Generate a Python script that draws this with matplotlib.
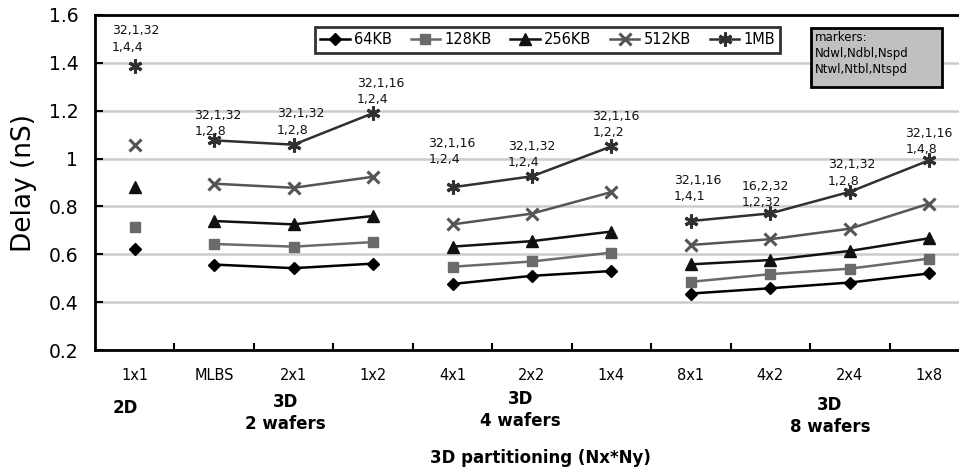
import numpy as np
import matplotlib
matplotlib.use("Agg")
import matplotlib.pyplot as plt
from matplotlib.patches import Rectangle
import matplotlib.transforms as mtransforms

plt.rcParams['font.family'] = ['DejaVu Sans']

categories = ["1x1", "MLBS", "2x1", "1x2", "4x1", "2x2", "1x4", "8x1", "4x2", "2x4", "1x8"]
groups = [[0], [1, 2, 3], [4, 5, 6], [7, 8, 9, 10]]
group_labels = ["2D", "3D\n2 wafers", "3D\n4 wafers", "3D\n8 wafers"]

series_names = ["64KB", "128KB", "256KB", "512KB", "1MB"]
delay_64kb = [0.621, 0.557, 0.542, 0.561, 0.476, 0.510, 0.530, 0.436, 0.458, 0.482, 0.520]
delay_128kb = [0.714, 0.643, 0.632, 0.651, 0.548, 0.570, 0.607, 0.485, 0.517, 0.540, 0.582]
delay_256kb = [0.880, 0.739, 0.725, 0.760, 0.632, 0.655, 0.695, 0.558, 0.576, 0.614, 0.667]
delay_512kb = [1.055, 0.895, 0.878, 0.924, 0.725, 0.770, 0.860, 0.639, 0.663, 0.707, 0.812]
delay_1mb = [1.388, 1.076, 1.058, 1.190, 0.880, 0.926, 1.051, 0.739, 0.771, 0.861, 0.993]

config_labels = ["32,1,32\n1,4,4", "32,1,32\n1,2,8", "32,1,32\n1,2,8", "32,1,16\n1,2,4",
                 "32,1,16\n1,2,4", "32,1,32\n1,2,4", "32,1,16\n1,2,2", "32,1,16\n1,4,1",
                 "16,2,32\n1,2,32", "32,1,32\n1,2,8", "32,1,16\n1,4,8"]

# layout (pixel offsets of the config labels relative to the 1MB points)
label_dx = [-23, -20, -17, -16, -24, -24, -19, -17, -29, -22, -24]
label_dy = [19, 9, 15, 14, 28, 14, 14, 25, 11, 11, 11]

series = [delay_64kb, delay_128kb, delay_256kb, delay_512kb, delay_1mb]
colors = ["#000000", "#6a6a6a", "#111111", "#555555", "#303030"]
markers = ["D", "s", "^", "x", (6, 2, 0)]
msizes = [6, 7, 8, 9, 10]
mews = [1, 1, 1, 2.2, 2.2]

fig = plt.figure(figsize=(9.59, 4.70), dpi=100)
ax = fig.add_axes([95/959, 120/470, 874/959, 335/470])

x = np.arange(len(categories))
for vals, name, c, m, ms, mew in zip(series, series_names, colors, markers, msizes, mews):
    vals = np.asarray(vals)
    first = True
    for g in groups:
        gi = np.array(g)
        ax.plot(x[gi], vals[gi], color=c, marker=m, markersize=ms, markeredgewidth=mew,
                markeredgecolor=c, markerfacecolor=c, linewidth=1.8, zorder=3,
                label=name if first else None)
        first = False

for i, txt in enumerate(config_labels):
    ax.annotate(txt, xy=(x[i], delay_1mb[i]), xytext=(label_dx[i], label_dy[i] - 7),
                textcoords='offset pixels', ha='left', va='bottom', fontsize=9,
                linespacing=1.35, color='#111111', zorder=4)

ax.set_xlim(-0.5, len(categories) - 0.5)
ax.set_ylim(0.2, 1.6)
ax.set_yticks([0.2, 0.4, 0.6, 0.8, 1.0, 1.2, 1.4, 1.6])
ax.set_yticklabels(["%g" % v for v in [0.2, 0.4, 0.6, 0.8, 1.0, 1.2, 1.4, 1.6]], fontsize=13.5)
ax.yaxis.grid(True, color='#cccccc', linewidth=1.8, zorder=0)
ax.set_axisbelow(True)
ax.tick_params(axis='y', direction='in', length=6, width=1.5, pad=12)

ax.set_xticks(np.arange(len(categories)) + 0.5)
ax.set_xticklabels([])
ax.tick_params(axis='x', which='major', direction='in', length=5, width=1.5)
ax.set_xticks(x, minor=True)
ax.set_xticklabels(categories, minor=True, fontsize=10.5)
ax.tick_params(axis='x', which='minor', length=0, pad=13)

for sp in ['left', 'bottom', 'top']:
    ax.spines[sp].set_linewidth(2)
ax.spines['right'].set_visible(False)

ax.set_ylabel("Delay (nS)", fontsize=19, labelpad=8)

# group labels
trans = mtransforms.blended_transform_factory(ax.transData, ax.transAxes)
group_x = [-0.12, 1.9, 4.85, 8.75]
group_y = [-0.173, -0.188, -0.179, -0.197]
for gx, gy, gl in zip(group_x, group_y, group_labels):
    ax.text(gx, gy, gl, transform=trans, ha='center', va='center', fontsize=12,
            fontweight='bold', linespacing=1.3)

fig.text(540/959, 1 - 458/470, "3D partitioning (Nx*Ny)", ha='center', va='center',
         fontsize=12, fontweight='bold')

leg = ax.legend(loc='upper center', bbox_to_anchor=(0.518, 0.963), ncol=5, fontsize=10.5,
                frameon=True, fancybox=False, edgecolor='black', handlelength=2.0,
                handletextpad=0.3, columnspacing=1.3, borderpad=0.35, borderaxespad=0)
leg.get_frame().set_linewidth(2)

# markers info box
fig.patches.append(Rectangle((811/959, 1 - 87/470), 131/959, 59/470, transform=fig.transFigure,
                             facecolor='#c0c0c0', edgecolor='black', linewidth=2, zorder=5))
fig.text(815/959, 1 - 31/470, "markers:\nNdwl,Ndbl,Nspd\nNtwl,Ntbl,Ntspd", ha='left', va='top',
         fontsize=8.5, linespacing=1.3, zorder=6)

fig.savefig("out.png", dpi=100)
